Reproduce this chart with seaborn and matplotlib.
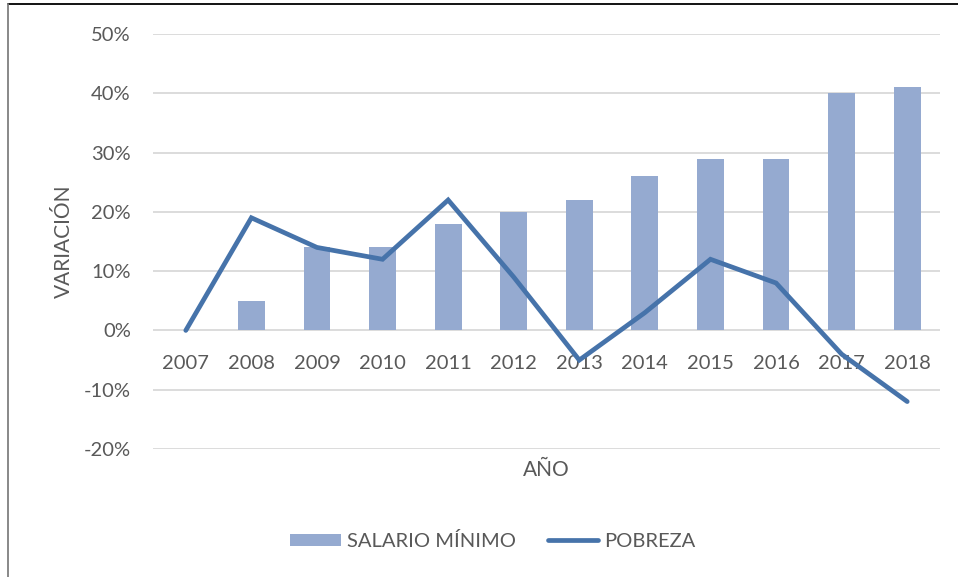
import numpy as np
import pandas as pd
import matplotlib
matplotlib.use('Agg')
import matplotlib.pyplot as plt
import seaborn as sns
from matplotlib.lines import Line2D
from matplotlib.ticker import PercentFormatter

# Chart data
years = ['2007', '2008', '2009', '2010', '2011', '2012',
         '2013', '2014', '2015', '2016', '2017', '2018']
salario_minimo = [0, 5, 14, 14, 18, 20, 22, 26, 29, 29, 40, 41]
pobreza = [0, 19, 14, 12, 22, 9, -5, 3, 12, 8, -4, -12]

df = pd.DataFrame({'Year': years, 'Salario': salario_minimo, 'Pobreza': pobreza})

sns.set_style('white')
plt.rcParams['font.family'] = ['Lato', 'DejaVu Sans']
plt.rcParams['axes.unicode_minus'] = False

text_color = '#595959'
bar_color = '#95aad0'
line_color = '#4673aa'

fig = plt.figure(figsize=(9.58, 5.77), dpi=100)
ax = fig.add_axes([153 / 958, 1 - 449 / 577, (940 - 153) / 958, (449 - 34) / 577])

# Bars: salario minimo
sns.barplot(x='Year', y='Salario', data=df, color=bar_color, width=0.41,
            saturation=1, linewidth=0, ax=ax, label='SALARIO MÍNIMO', zorder=2)

# Line: pobreza
sns.lineplot(x=np.arange(len(years)), y='Pobreza', data=df, color=line_color,
             linewidth=3.4, ax=ax, label='POBREZA', zorder=3,
             solid_capstyle='round', solid_joinstyle='miter')

ax.set_xlim(-0.5, len(years) - 0.5)
ax.set_ylim(-20, 50)
ax.set_yticks(np.arange(-20, 51, 10))
ax.yaxis.set_major_formatter(PercentFormatter(decimals=0))
ax.grid(axis='y', color='#d9d9d9', linewidth=1.3, zorder=0)
ax.set_axisbelow(True)

# Year labels sit just under the zero line
for s in ['top', 'right', 'left']:
    ax.spines[s].set_visible(False)
ax.spines['bottom'].set_position(('data', 0))
ax.spines['bottom'].set_visible(False)

ax.tick_params(axis='x', length=0, pad=18, labelsize=14.5, labelcolor=text_color)
ax.tick_params(axis='y', length=0, pad=16, labelsize=14.5, labelcolor=text_color)
ax.set_xlabel('')
ax.set_ylabel('VARIACIÓN', fontsize=15, color=text_color, va='center')
ax.yaxis.set_label_coords((64 - 153) / 787, 0.5)

fig.text(546 / 958, 1 - 470 / 577, 'AÑO', ha='center', va='center',
         fontsize=15, color=text_color)

ax.get_legend().remove()
handles, labels = ax.get_legend_handles_labels()
order = [labels.index('SALARIO MÍNIMO'), labels.index('POBREZA')]
leg = fig.legend([handles[i] for i in order], [labels[i] for i in order],
                 loc='center', ncol=2,
                 bbox_to_anchor=(493 / 958, 1 - 541 / 577), frameon=False,
                 fontsize=14.5, handlelength=2.5, handleheight=0.55,
                 columnspacing=1.6, handletextpad=0.3)
for t in leg.get_texts():
    t.set_color(text_color)

# Outer frame (top and left edges visible in the reference)
fig.add_artist(Line2D([8 / 958, 958 / 958], [1 - 4 / 577, 1 - 4 / 577],
                      transform=fig.transFigure, color='#000000', linewidth=1.3))
fig.add_artist(Line2D([8 / 958, 8 / 958], [1 - 4 / 577, 0],
                      transform=fig.transFigure, color='#7f7f7f', linewidth=1.3))

fig.savefig('out.png', dpi=100)
